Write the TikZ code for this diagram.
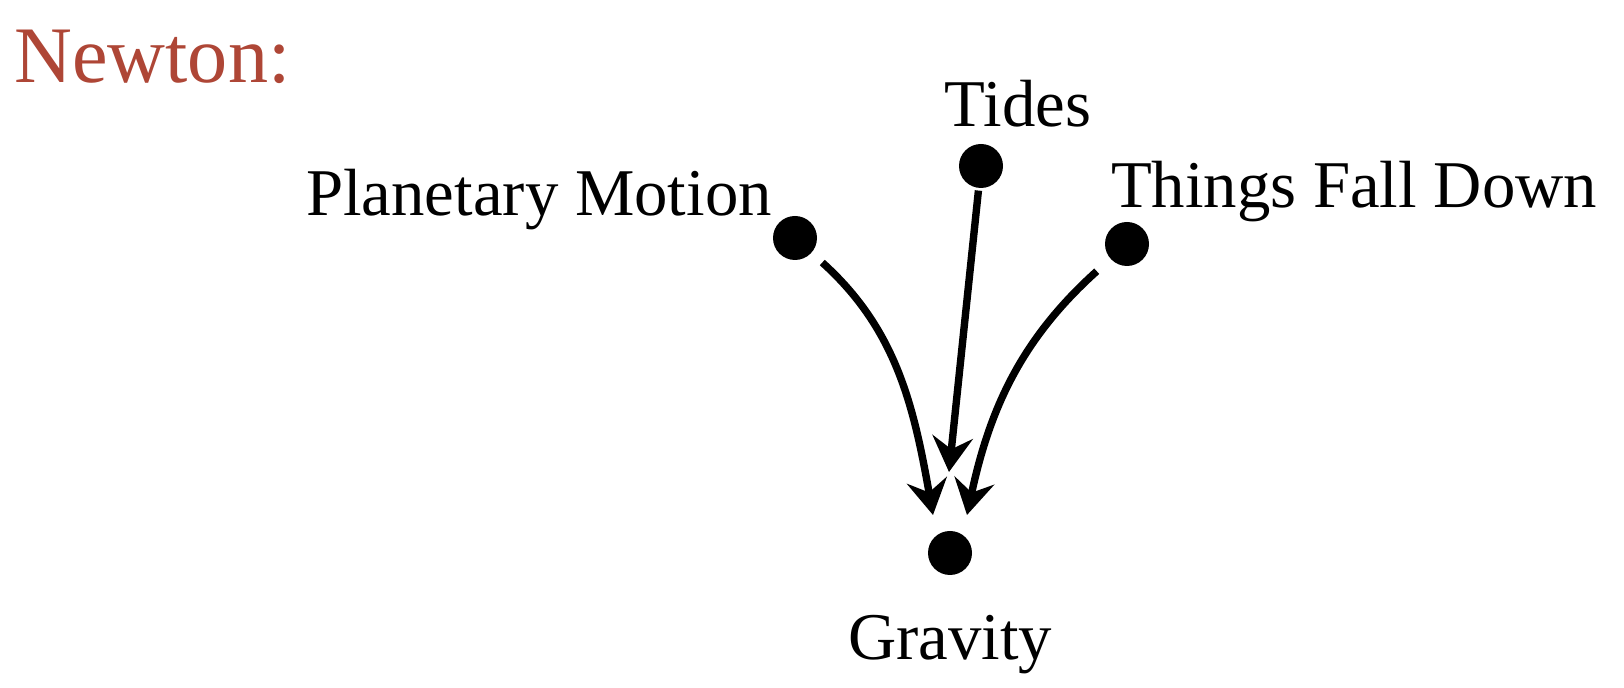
\documentclass[tikz,border=0pt]{standalone}
\usepackage{fontspec}
\setmainfont{Liberation Serif}
\usepackage{xcolor}
\usetikzlibrary{arrows.meta}
\definecolor{newtonred}{RGB}{174,70,54}

\begin{document}
\begin{tikzpicture}
\tikzstyle{every node}=[font=\fontsize{19}{23}\selectfont]
\tikzstyle{dot}=[circle,fill=black,inner sep=0pt,minimum size=0.44cm]
\tikzstyle{link}=[line width=2.1pt,-{Stealth[length=10pt,width=11.5pt,inset=3.5pt]}]
\useasboundingbox (0,0) rectangle (16.24,6.88);
\node [anchor=base west,text=newtonred,font=\fontsize{22.8}{27}\selectfont] (title) at (0.02,6.05) {Newton:};
% dots
\node [dot] (pm) at (7.95,4.50) {};
\node [dot] (td) at (9.81,5.22) {};
\node [dot] (tf) at (11.27,4.44) {};
\node [dot] (gr) at (9.50,1.35) {};
% labels
\node [anchor=base] (pmlabel) at (5.39,4.72) {Planetary Motion};
\node [anchor=base] (tdlabel) at (10.18,5.61) {Tides};
\node [anchor=base] (tflabel) at (13.54,4.80) {Things Fall Down};
\node [anchor=base] (grlabel) at (9.50,0.28) {Gravity};
% arrow tips
\coordinate (pmtip) at (9.33,1.73);
\coordinate (tdtip) at (9.49,2.16);
\coordinate (tftip) at (9.67,1.73);
\draw [link,shorten <=0.14cm] (pm) to[out=-42,in=100] (pmtip);
\draw [link,shorten <=0.02cm] (td) -- (tdtip);
\draw [link,shorten <=0.18cm] (tf) to[out=222,in=78] (tftip);
\end{tikzpicture}
\end{document}
